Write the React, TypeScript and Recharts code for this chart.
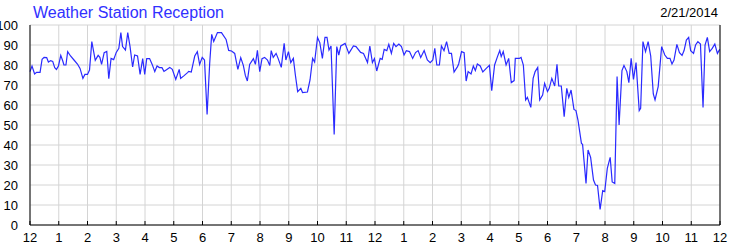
import React from 'react';
import { LineChart, Line, XAxis, YAxis, CartesianGrid } from 'recharts';

// sample times (hours since midnight) and reception (%)
const hours = [
  0, 0.07, 0.16, 0.23, 0.35, 0.42, 0.49, 0.58, 0.64, 0.72, 0.79, 0.86, 0.92, 0.99,
  1.07, 1.14, 1.18, 1.25, 1.31, 1.41, 1.53, 1.65, 1.74, 1.84, 1.91, 2.0,
  2.07, 2.15, 2.27, 2.37, 2.43, 2.49, 2.58, 2.67, 2.74, 2.82, 2.91, 3.0,
  3.09, 3.16, 3.22, 3.32, 3.4, 3.48, 3.57, 3.64, 3.74, 3.83, 3.92, 3.99,
  4.06, 4.16, 4.25, 4.34, 4.42, 4.5, 4.59, 4.66, 4.76, 4.86, 4.95,
  5.07, 5.19, 5.24, 5.36, 5.48, 5.52, 5.61, 5.73, 5.82, 5.9, 5.99,
  6.07, 6.16, 6.25, 6.32, 6.39, 6.52, 6.66, 6.82, 6.91,
  7.01, 7.12, 7.23, 7.33, 7.42, 7.49, 7.56, 7.64, 7.77, 7.84, 7.91, 7.99,
  8.07, 8.16, 8.26, 8.34, 8.39, 8.46, 8.56, 8.63, 8.74, 8.84, 8.9, 8.99,
  9.07, 9.16, 9.23, 9.31, 9.42, 9.48, 9.65, 9.74, 9.83, 9.9, 10.0,
  10.08, 10.17, 10.26, 10.33, 10.4, 10.47, 10.58, 10.67, 10.74, 10.81, 10.96,
  11.09, 11.25, 11.34, 11.5, 11.6, 11.74, 11.82, 11.91, 11.98,
  12.06, 12.18, 12.25, 12.32, 12.41, 12.48, 12.57, 12.65, 12.73, 12.83, 12.92,
  13.01, 13.09, 13.2, 13.31, 13.41, 13.5, 13.59, 13.71, 13.82, 13.92,
  14.01, 14.08, 14.15, 14.24, 14.31, 14.4, 14.49, 14.58, 14.66, 14.75, 14.87, 14.91,
  15.01, 15.1, 15.17, 15.24, 15.34, 15.42, 15.49, 15.56, 15.66, 15.75, 15.87, 15.98,
  16.06, 16.16, 16.26, 16.34, 16.39, 16.46, 16.56, 16.65, 16.74, 16.84, 16.88,
  17.02, 17.08, 17.16, 17.24, 17.3, 17.42, 17.5, 17.57, 17.66, 17.73, 17.83, 17.9,
  18.0, 18.06, 18.15, 18.25, 18.33, 18.39, 18.48, 18.58, 18.67, 18.74, 18.82, 18.92, 18.99,
  19.06, 19.18, 19.22, 19.34, 19.41, 19.5, 19.6, 19.67, 19.74, 19.83, 19.92, 19.99,
  20.08, 20.18, 20.25, 20.34, 20.42, 20.49, 20.59, 20.66, 20.76, 20.83, 20.91, 20.99,
  21.08, 21.19, 21.24, 21.32, 21.41, 21.5, 21.59, 21.68, 21.74, 21.85, 21.97,
  22.08, 22.17, 22.26, 22.33, 22.4, 22.5, 22.59, 22.68, 22.75, 22.83, 22.91, 22.98,
  23.08, 23.15, 23.23, 23.32, 23.41, 23.48, 23.56, 23.64, 23.73, 23.82, 23.91, 23.99,
];

const reception = [
  76.7, 79.5, 75.5, 76.3, 76.3, 82.8, 83.8, 83.7, 81.5, 82.2, 81.8, 78.7, 77.8, 79.5,
  84.8, 82, 80, 80, 86.7, 84.5, 82.5, 80.5, 78.3, 73.3, 75.3, 75.3,
  77.5, 91.7, 82.3, 84.8, 83.8, 80.3, 86.2, 86.8, 73.2, 83.3, 82.7, 86.3,
  88.3, 96.2, 89.2, 87.5, 96.2, 89.2, 79, 85, 84.5, 75.3, 83.2, 75.3,
  83.2, 83.2, 80.3, 76.7, 79.5, 78.7, 78.7, 76.8, 77.8, 78.8, 77.8,
  72.8, 77.8, 73.3, 74.7, 76.2, 76.8, 76.5, 84.5, 86.7, 80.3, 83.8,
  82.5, 55.3, 80.8, 95.3, 91.8, 96.2, 96.2, 92.8, 87.3,
  87, 85.8, 77.8, 83.7, 79.8, 74.8, 72, 80.3, 83.2, 80.3, 87.3, 76.7,
  83.2, 83.8, 82.5, 79.8, 87.2, 83.8, 85.8, 83.3, 78.8, 90.8, 82.5, 86.7,
  81.2, 83.3, 75, 66.7, 68.3, 66.2, 66.5, 72.5, 83.3, 81.5, 93.8,
  91.2, 83.3, 93.8, 93.8, 87.5, 89.5, 45.2, 89.2, 85, 89.5, 90.8,
  85.8, 89.5, 89.2, 86.3, 85.8, 81.2, 89.5, 81.2, 83.2,
  77, 83.3, 82.8, 87.8, 87.2, 90.3, 85.8, 90.8, 89.2, 90.5, 89.2,
  85, 87.2, 86.7, 83.3, 86.2, 87.2, 83.8, 87.2, 82.5, 81.2,
  82.5, 88.3, 80, 80, 89.5, 87.2, 91.7, 85.8, 85.8, 76.5, 79.2, 80.5,
  86.7, 86.2, 72, 76.7, 75.5, 79.5, 77.2, 80.5, 79.5, 76.5, 78.3, 79.8,
  67.2, 80, 84.2, 87.2, 84.2, 86.7, 80, 83.3, 71.2, 72.2, 83.3,
  83.3, 83.8, 80, 62.5, 63.8, 58.8, 73.3, 76.7, 78.8, 62.5, 65, 70.8,
  66.7, 68.3, 73.3, 69.5, 80.3, 69.5, 69.5, 54.2, 68.3, 63.8, 67.5, 57.8, 57.2,
  52.5, 40.8, 40.3, 20.8, 37.5, 33.8, 22.5, 20, 19.8, 7.8, 17.2, 16.7,
  28.3, 33.8, 21.5, 20.8, 74.2, 50, 77.2, 79.7, 76.7, 71.2, 83.3, 72.8,
  81.2, 57.2, 58.3, 91.7, 86.7, 91.7, 84.5, 65.5, 62.5, 69.2, 89.2,
  85, 83.3, 83.3, 80.5, 82.5, 90.3, 86.2, 84.8, 87.2, 92.5, 93.8, 87.2,
  85.8, 90, 91.7, 90.5, 58.8, 90, 93.8, 86.7, 88.3, 90.5, 85.8, 87.8,
];

const hourTicks = [0, 1, 2, 3, 4, 5, 6, 7, 8, 9, 10, 11, 12, 13, 14, 15, 16, 17, 18, 19, 20, 21, 22, 23, 24];
const hourLabels = ['12', '1', '2', '3', '4', '5', '6', '7', '8', '9', '10', '11',
  '12', '1', '2', '3', '4', '5', '6', '7', '8', '9', '10', '11', '12'];
const pctTicks = [0, 10, 20, 30, 40, 50, 60, 70, 80, 90, 100];

const title = 'Weather Station Reception';
const dateLabel = '2/21/2014';

const data = hours.map((t, i) => ({ t, v: reception[i] }));

const font = '"Liberation Sans", Arial, sans-serif';
const tickStyle = { fontSize: 13, fill: '#000', fontFamily: font };

export default function App() {
  return (
    <div style={{ position: 'absolute', left: 0, top: 0, width: 750, height: 250, background: '#fff' }}>
      <LineChart width={750} height={250} data={data} margin={{ top: 25, right: 0, bottom: 0, left: 0 }}>
        <CartesianGrid stroke="#d4d4d4" strokeWidth={1} />
        <XAxis
          dataKey="t" type="number" domain={[0, 24]} ticks={hourTicks} interval={0}
          tickFormatter={(h: number) => hourLabels[h]}
          height={25} tickSize={-4} tickMargin={12}
          axisLine={{ stroke: '#000' }} tickLine={{ stroke: '#000' }} tick={tickStyle}
        />
        <XAxis
          xAxisId="top" orientation="top" dataKey="t" type="number" domain={[0, 24]}
          ticks={hourTicks} interval={0} height={0} tickSize={-4} tick={false}
          axisLine={{ stroke: '#000' }} tickLine={{ stroke: '#000' }}
        />
        <YAxis
          domain={[0, 100]} ticks={pctTicks} interval={0} width={30}
          tickLine={false} tickMargin={6} axisLine={{ stroke: '#000' }} tick={tickStyle}
        />
        <YAxis
          yAxisId="right" orientation="right" domain={[0, 100]} ticks={pctTicks} interval={0} width={30}
          tickLine={false} tickMargin={7} axisLine={{ stroke: '#000' }} tick={tickStyle}
        />
        <Line dataKey="v" type="linear" stroke="#2a2aff" strokeWidth={1.2} dot={false} isAnimationActive={false} />
      </LineChart>
      <svg width={750} height={250} style={{ position: 'absolute', left: 0, top: 0, pointerEvents: 'none' }}>
        <text x={33} y={18} fontSize={16} fontFamily={font} fill="#3030ff">{title}</text>
        <text x={718} y={17} fontSize={13} fontFamily={font} fill="#000" textAnchor="end">{dateLabel}</text>
      </svg>
    </div>
  );
}
